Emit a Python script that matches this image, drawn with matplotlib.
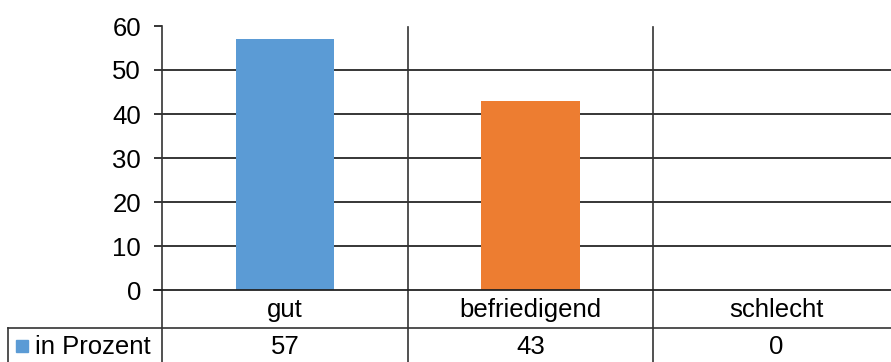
import matplotlib
matplotlib.use("Agg")
import matplotlib.pyplot as plt
from matplotlib.lines import Line2D
from matplotlib.patches import Rectangle

categories = ["gut", "befriedigend", "schlecht"]
values = [57, 43, 0]
series_name = "in Prozent"
bar_colors = ["#5B9BD5", "#ED7D31", "#A5A5A5"]
yticks = [0, 10, 20, 30, 40, 50, 60]

W, H = 891, 362
FS = 18.5
plt.rcParams['font.family'] = ['Liberation Sans', 'DejaVu Sans']
fig = plt.figure(figsize=(W / 100, H / 100), dpi=100)

def fx(px):
    return px / W

def fy(py):
    return 1 - py / H

left_px, right_px = 162, 899
y0_px, y60_px = 290, 26
ax = fig.add_axes([fx(left_px), fy(y0_px), fx(right_px) - fx(left_px), fy(y60_px) - fy(y0_px)])
ax.set_xlim(0, len(categories))
ax.set_ylim(0, 60)
xs = [i + 0.5 for i in range(len(categories))]
ax.bar(xs, values, width=0.4, color=bar_colors[:len(values)], zorder=3)

for v in yticks[1:-1]:
    ax.axhline(v, color="black", lw=1.1, zorder=1)
for s in ["top", "right", "bottom"]:
    ax.spines[s].set_visible(False)
ax.spines["left"].set_color("#333333")
ax.spines["left"].set_linewidth(1.2)
ax.set_xticks([])
ax.set_yticks(yticks)
ax.tick_params(axis="y", direction="out", length=6, width=1.1, pad=9, labelsize=FS, colors="black")
ax.set_facecolor("none")

lc = "#333333"
# category boundary lines through plot and table
for i in range(1, len(categories)):
    xp = left_px + (right_px - left_px) * i / len(categories)
    fig.add_artist(Line2D([fx(xp), fx(xp)], [fy(27), fy(H + 2)], color=lc, lw=1.2))
# left axis line extended into table
fig.add_artist(Line2D([fx(left_px), fx(left_px)], [fy(290), fy(H + 2)], color=lc, lw=1.2))
# horizontal axis line
fig.add_artist(Line2D([fx(left_px - 8), fx(W + 5)], [fy(290), fy(290)], color="#222222", lw=1.3))
# table separator
fig.add_artist(Line2D([fx(8), fx(W + 5)], [fy(328), fy(328)], color=lc, lw=1.2))
fig.add_artist(Line2D([fx(8), fx(8)], [fy(328), fy(H + 2)], color=lc, lw=1.2))

# table text
cat_w = (right_px - left_px) / len(categories)
for i, (c, v) in enumerate(zip(categories, values)):
    cx = left_px + cat_w * (i + 0.5)
    fig.text(fx(cx), fy(310), c, ha="center", va="center", fontsize=FS)
    fig.text(fx(cx), fy(347), str(v), ha="center", va="center", fontsize=FS)

# legend key + series name
fig.add_artist(Rectangle((fx(16), fy(352)), fx(12), fy(340) - fy(352), color=bar_colors[0]))
fig.text(fx(35), fy(347), series_name, ha="left", va="center", fontsize=FS)

fig.savefig("out.png", dpi=100)
